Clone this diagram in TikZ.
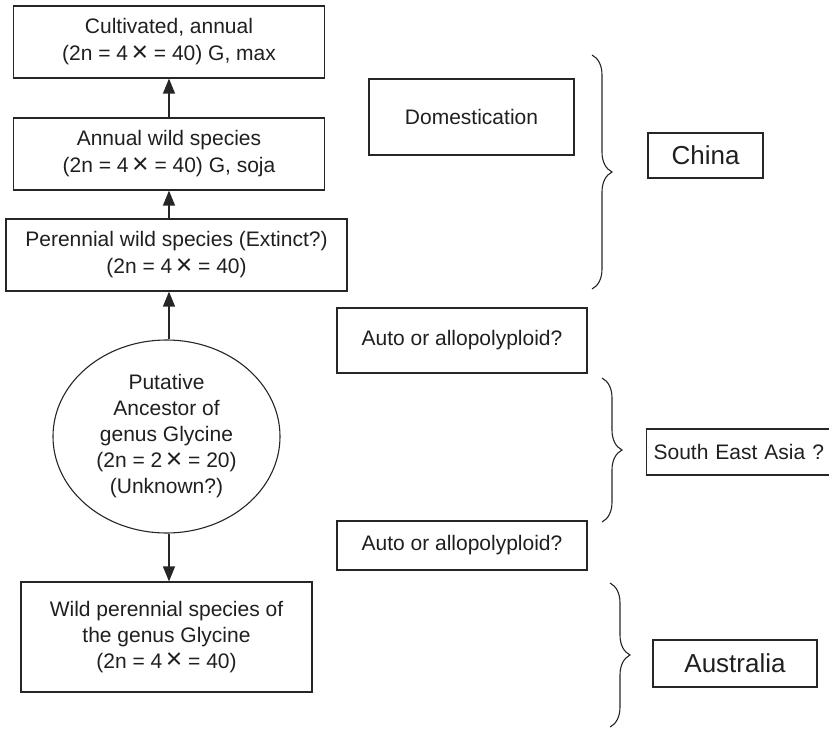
\documentclass[tikz,border=0pt]{standalone}
\usepackage{fontspec}
\setmainfont{Liberation Sans}
\usetikzlibrary{arrows.meta,decorations.pathreplacing,shapes.geometric}
\newcommand\tms{\,\raisebox{-0.5pt}{\scalebox{1.35}{×}}}
\begin{document}
\begin{tikzpicture}[x=1pt,y=-1pt,
  every node/.style={font=\fontsize{21}{27}\selectfont, text=black!88},
  bx/.style={draw=black!85, line width=1.2pt, rectangle, align=center, inner sep=0pt},
  conn/.style={draw=black!85, line width=1.3pt, -{Triangle[length=15pt,width=12pt]}},
  brc/.style={draw=black!85, line width=1.1pt, decorate, decoration={brace, amplitude=20pt}},
  big/.style={font=\fontsize{26}{30}\selectfont}]
\useasboundingbox (0,0) rectangle (829,728);
\node[bx, minimum width=311pt, minimum height=72pt] (cult) at (169,42) {Cultivated, annual\\(2n = 4\tms{} = 40) G, max};
\node[bx, minimum width=311pt, minimum height=72pt] (ann) at (169,154) {Annual wild species\\(2n = 4\tms{} = 40) G, soja};
\node[bx, minimum width=341pt, minimum height=72pt] (per) at (176.5,255) {Perennial wild species (Extinct?)\\(2n = 4\tms{} = 40)};
\node[draw=black!85, line width=1.1pt, ellipse, minimum width=227pt, minimum height=193pt, inner sep=0pt, align=center, font=\fontsize{21}{26}\selectfont] (anc) at (166.5,436.5) {Putative\\Ancestor of\\genus Glycine\\(2n = 2\tms{} = 20)\\(Unknown?)};
\node[bx, minimum width=291pt, minimum height=110pt, font=\fontsize{21}{26}\selectfont] (wild) at (166.5,637) {Wild perennial species of\\the genus Glycine\\(2n = 4\tms{} = 40)};
\node[bx, minimum width=205pt, minimum height=76pt] (dom) at (471.5,117) {Domestication};
\node[bx, minimum width=250pt, minimum height=65pt] (auto1) at (462,340.5) {Auto or allopolyploid?};
\node[bx, minimum width=250pt, minimum height=49pt] (auto2) at (462,545.5) {Auto or allopolyploid?};
\node[bx, big, minimum width=115pt, minimum height=45pt] (china) at (705.5,155.5) {China};
\node[bx, big, minimum width=164pt, minimum height=47pt] (aus) at (735,663.5) {Australia};
\node[bx, anchor=west, minimum width=192pt, minimum height=46pt, text width=186pt, align=left, inner xsep=7pt] (sea) at (646,452) {South East Asia ?};
\coordinate (b1t) at (592,55);
\coordinate (b1b) at (592,289);
\coordinate (b2t) at (602,378);
\coordinate (b2b) at (602,522);
\coordinate (b3t) at (610,583);
\coordinate (b3b) at (610,727);
\draw[conn] (ann.north) -- (cult.south);
\draw[conn] (per.north -| ann.south) -- (ann.south);
\draw[conn] ([xshift=2.5pt]anc.north) -- ([xshift=2.5pt]anc.north |- per.south);
\draw[conn] ([xshift=2.5pt]anc.south) -- ([xshift=2.5pt]anc.south |- wild.north);
\draw[brc] (b1t) -- (b1b);
\draw[brc] (b2t) -- (b2b);
\draw[brc] (b3t) -- (b3b);
\end{tikzpicture}
\end{document}
